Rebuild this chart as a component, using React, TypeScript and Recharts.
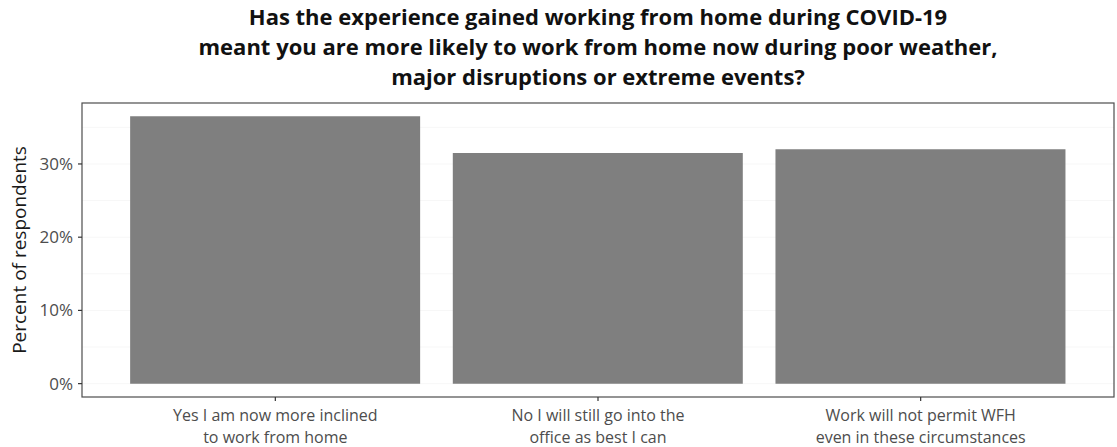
import React from "react";
import { ComposedChart, Bar, XAxis, YAxis, CartesianGrid, Label, usePlotArea } from "recharts";

const categories = [
  "Yes I am now more inclined\nto work from home",
  "No I will still go into the\noffice as best I can",
  "Work will not permit WFH\neven in these circumstances",
];
const percents = [36.5, 31.5, 32.0];
const yTicks = [0, 10, 20, 30];
const gridValues = [0, 5, 10, 15, 20, 25, 30, 35];
const yDomain = [-1.825, 38.325];
const titleLines = [
  "Has the experience gained working from home during COVID-19",
  "meant you are more likely to work from home now during poor weather,",
  "major disruptions or extreme events?",
];

const data = categories.map((c, i) => ({ cat: c, value: percents[i] }));

const FONT = "'Open Sans', sans-serif";

const XTick = (props: any) => {
  const { x, y, payload } = props;
  const lines = String(payload.value).split("\n");
  return (
    <g transform={`translate(${x},${y})`}>
      <text x={0} y={17.5} textAnchor="middle" fill="#4d4d4d" fontSize={16} fontFamily={FONT}>
        {lines.map((l: string, i: number) => (
          <tspan key={i} x={0} dy={i === 0 ? 0 : 22}>
            {l}
          </tspan>
        ))}
      </text>
    </g>
  );
};

const Frame = () => {
  const p = usePlotArea();
  if (!p) return null;
  return <rect x={p.x} y={p.y} width={p.width} height={p.height} fill="none" stroke="#4d4d4d" strokeWidth={1.2} />;
};

export default function App() {
  return (
    <div style={{ position: "absolute", left: 0, top: 0, width: 1117, height: 447, background: "#fff" }}>
      <div
        style={{
          position: "absolute",
          left: 82,
          top: 1,
          width: 1032,
          textAlign: "center",
          fontFamily: FONT,
          fontWeight: 700,
          fontSize: 22,
          lineHeight: "30px",
          color: "#111",
        }}
      >
        {titleLines.map((t, i) => (
          <div key={i}>{t}</div>
        ))}
      </div>
      <ComposedChart
        width={1117}
        height={447}
        data={data}
        margin={{ top: 103, right: 3, bottom: 20, left: 0 }}
        barCategoryGap="5%"
      >
        <CartesianGrid horizontal vertical={false} stroke="#f7f7f7" horizontalValues={gridValues} />
        <XAxis
          dataKey="cat"
          type="category"
          padding={{ left: 32, right: 32 }}
          axisLine={false}
          tickLine={{ stroke: "#333", strokeWidth: 1.2 }}
          tickSize={4}
          tick={<XTick />}
          interval={0}
        />
        <YAxis
          type="number"
          domain={yDomain}
          ticks={yTicks}
          allowDataOverflow
          width={82}
          axisLine={false}
          tickLine={{ stroke: "#333", strokeWidth: 1.2 }}
          tickSize={4}
          tickMargin={5}
          tickFormatter={(v: number) => `${v}%`}
          tick={{ fill: "#4d4d4d", fontSize: 17, fontFamily: FONT }}
        >
          <Label
            value="Percent of respondents"
            angle={-90}
            position="insideLeft"
            offset={19}
            style={{ textAnchor: "middle", fill: "#1a1a1a", fontSize: 19, fontFamily: FONT }}
          />
        </YAxis>
        <Bar dataKey="value" fill="#7f7f7f" isAnimationActive={false} />
        <Frame />
      </ComposedChart>
    </div>
  );
}
